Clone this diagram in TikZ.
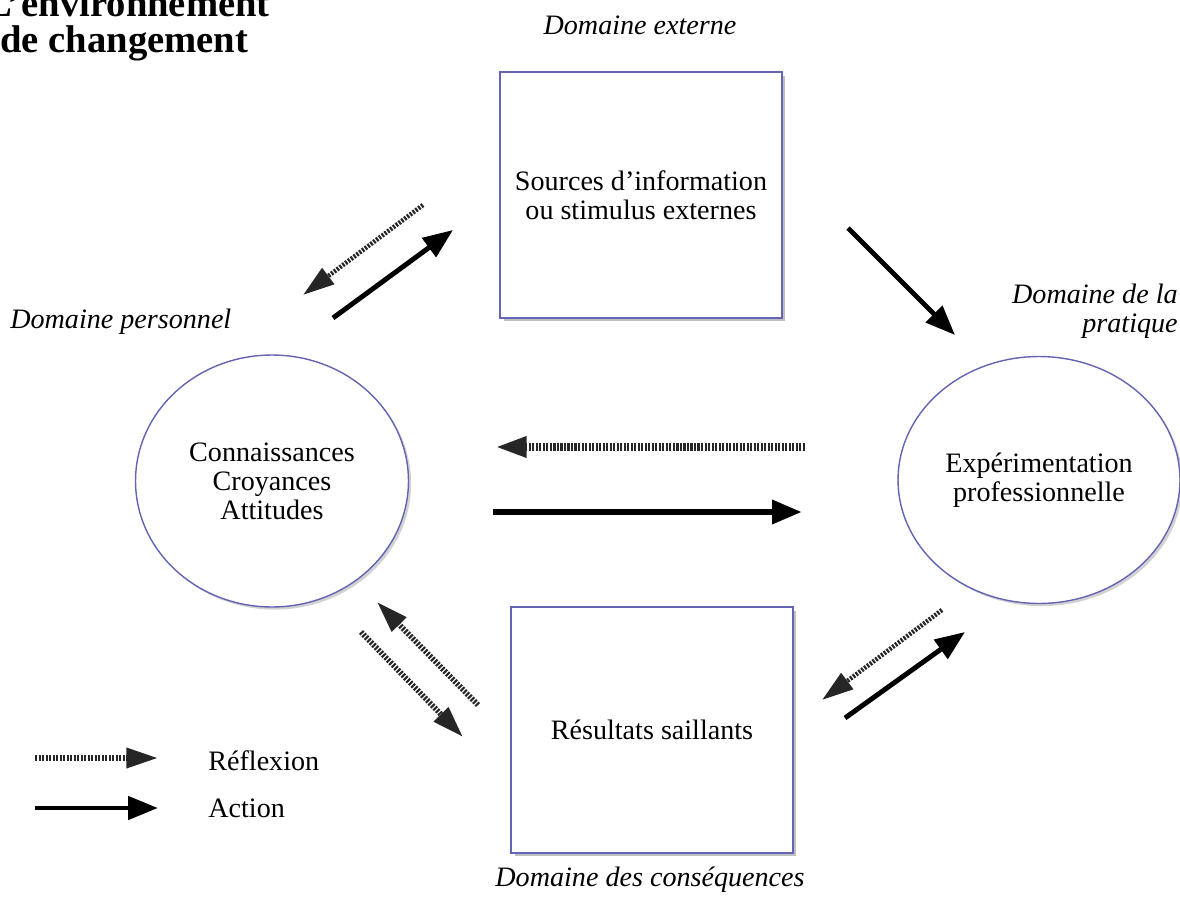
\documentclass[tikz,border=0pt]{standalone}
\usepackage{fontspec}
\setmainfont{Liberation Serif}
\usepackage{tikz}
\usetikzlibrary{arrows.meta}
\usetikzlibrary{shapes.geometric}
\usetikzlibrary{shadows}

\definecolor{cadre}{RGB}{100,100,180}
\tikzset{
  boite/.style={draw=cadre, line width=0.9pt, fill=white, align=center,
    minimum width=5.64cm, minimum height=4.92cm,
    drop shadow={shadow xshift=2pt, shadow yshift=-2pt, fill=black!50}},
  bulle/.style={ellipse, draw=cadre, line width=0.8pt, fill=white, align=center,
    drop shadow={shadow xshift=1.5pt, shadow yshift=-1.5pt, fill=black!35}},
  domaine/.style={font=\fontsize{16}{16.5}\selectfont\itshape, inner sep=0pt},
  titre/.style={font=\fontsize{22}{22}\selectfont\bfseries, inner sep=0pt, anchor=base west},
  action/.style={line width=2.8pt, -{Triangle[length=17pt,width=13pt]}},
  reflexion/.style={line width=3.2pt, black!85, dash pattern=on 1.2pt off 0.8pt,
    -{Triangle[length=18pt,width=11pt]}},
}

\begin{document}
\begin{tikzpicture}[x=0.02cm, y=-0.02cm, font=\fontsize{16}{16.5}\selectfont]
    \useasboundingbox (0,0) rectangle (1180,909);
    % titre
    \node[titre] (titre1) at (-14,17) {L'environnement};
    \node[titre] (titre2) at (0,53) {de changement};
    % domaines
    \node[domaine] (dext) at (640,25) {Domaine externe};
    \node[domaine, anchor=west] (dpers) at (10,322) {Domaine personnel};
    \node[domaine, anchor=east, align=right] (dprat) at (1178,311) {Domaine de la\\pratique};
    \node[domaine] (dcons) at (650,880) {Domaine des conséquences};
    % boites et bulles
    \node[boite] (sources) at (641,195) {Sources d'information\\ou stimulus externes};
    \node[boite] (resultats) at (652,730) {Résultats saillants};
    \node[bulle, minimum width=5.46cm, minimum height=5.04cm] (connaissances) at (272,481)
      {Connaissances\\Croyances\\Attitudes};
    \node[bulle, minimum width=5.64cm, minimum height=4.94cm] (experimentation) at (1039,480)
      {Expérimentation\\professionnelle};
    % extremites des fleches
    \coordinate (r1a) at (423,205); \coordinate (r1b) at (303,295);
    \coordinate (a1a) at (333,318); \coordinate (a1b) at (453,230);
    \coordinate (a2a) at (848,228); \coordinate (a2b) at (955,335);
    \coordinate (r2a) at (805,447); \coordinate (r2b) at (495,447);
    \coordinate (a3a) at (493,512); \coordinate (a3b) at (802,512);
    \coordinate (r3a) at (478,705); \coordinate (r3b) at (377,602);
    \coordinate (r4a) at (361,632); \coordinate (r4b) at (463,737);
    \coordinate (r5a) at (942,610); \coordinate (r5b) at (822,700);
    \coordinate (a4a) at (845,718); \coordinate (a4b) at (965,632);
    \draw [reflexion, line width=2.6pt] (r1a) -- (r1b);
    \draw [action] (a1a) -- (a1b);
    \draw [action] (a2a) -- (a2b);
    \draw [reflexion, line width=4.4pt] (r2a) -- (r2b);
    \draw [action, line width=3.8pt] (a3a) -- (a3b);
    \draw [reflexion] (r3a) -- (r3b);
    \draw [reflexion] (r4a) -- (r4b);
    \draw [reflexion, line width=2.6pt] (r5a) -- (r5b);
    \draw [action] (a4a) -- (a4b);
    % legende
    \coordinate (lr1) at (35,758); \coordinate (lr2) at (158,758);
    \coordinate (la1) at (35,808); \coordinate (la2) at (158,808);
    \draw [reflexion] (lr1) -- (lr2);
    \draw [action] (la1) -- (la2);
    \node[anchor=west, inner sep=0pt] (lreflexion) at (208,761) {Réflexion};
    \node[anchor=west, inner sep=0pt] (laction) at (208,808) {Action};
\end{tikzpicture}
\end{document}
